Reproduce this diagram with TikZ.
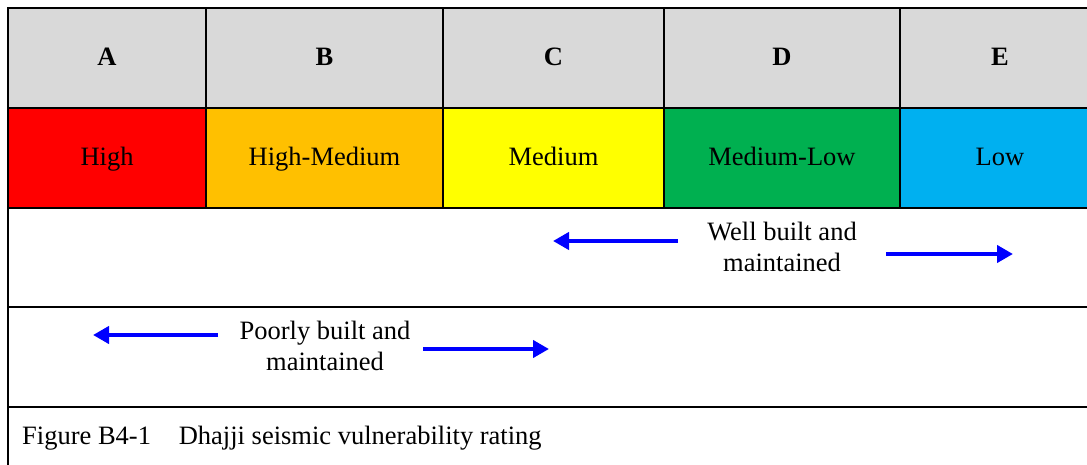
\documentclass[tikz,border=0pt]{standalone}
\usepackage{fontspec}
\setmainfont{Liberation Serif}
\usepackage{tikz}
\usetikzlibrary{arrows.meta,positioning}

\definecolor{hdgrey}{HTML}{D9D9D9}
\definecolor{ratered}{HTML}{FF0000}
\definecolor{rateorange}{HTML}{FFC000}
\definecolor{rateyellow}{HTML}{FFFF00}
\definecolor{rategreen}{HTML}{00B050}
\definecolor{rateblue}{HTML}{00B0F0}
\definecolor{arrblue}{HTML}{0000FF}

\tikzset{
  cell/.style={draw=black,line width=2pt,minimum height=100pt,inner sep=0pt,outer sep=0pt,align=center,text height=0.7em,text depth=0.1em},
  hdcell/.style={cell,fill=hdgrey,font=\bfseries},
  bandbox/.style={draw=black,line width=2pt,inner sep=0pt,outer sep=0pt},
  arr/.style={draw=arrblue,line width=4.5pt,-{Triangle[length=16pt,width=17pt]}},
  lbl/.style={align=center,inner sep=0pt}
}

\begin{document}
\begin{tikzpicture}[x=1pt,y=-1pt]
\fontsize{26.5}{31}\selectfont
\useasboundingbox (0,0) rectangle (1087,465);
\clip (0,0) rectangle (1087,465);
% header row
\node[hdcell,minimum width=198pt] (hA) at (107,58) {A};
\node[hdcell,minimum width=237pt] (hB) at (324.5,58) {B};
\node[hdcell,minimum width=221pt] (hC) at (553.5,58) {C};
\node[hdcell,minimum width=236pt] (hD) at (782,58) {D};
\node[hdcell,minimum width=200pt] (hE) at (1000,58) {E};
% rating row
\node[cell,fill=ratered,minimum width=198pt] (rA) at (107,158) {High};
\node[cell,fill=rateorange,minimum width=237pt] (rB) at (324.5,158) {High-Medium};
\node[cell,fill=rateyellow,minimum width=221pt] (rC) at (553.5,158) {Medium};
\node[cell,fill=rategreen,minimum width=236pt] (rD) at (782,158) {Medium-Low};
\node[cell,fill=rateblue,minimum width=200pt] (rE) at (1000,158) {Low};
% bands
\node[bandbox,minimum width=1092pt,minimum height=99pt] (wellrow) at (554,257.5) {};
\node[bandbox,minimum width=1092pt,minimum height=100pt] (poorrow) at (554,357) {};
\node[bandbox,minimum width=1092pt,minimum height=100pt] (caprow) at (554,457) {};
% well built
\node[lbl] (well) at (782,247) {Well built and\\maintained};
\coordinate (wellLa) at (678,241);
\coordinate (wellLb) at (553,241);
\coordinate (wellRa) at (886,254);
\coordinate (wellRb) at (1013,254);
\draw[arr] (wellLa) -- (wellLb);
\draw[arr] (wellRa) -- (wellRb);
% poorly built
\node[lbl] (poor) at (325,346) {Poorly built and\\maintained};
\coordinate (poorLa) at (218,335);
\coordinate (poorLb) at (93,335);
\coordinate (poorRa) at (423,349);
\coordinate (poorRb) at (549,349);
\draw[arr] (poorLa) -- (poorLb);
\draw[arr] (poorRa) -- (poorRb);
% caption
\node[lbl,anchor=west] (cap) at (22,438) {Figure B4-1\hspace{1.05em}Dhajji seismic vulnerability rating};
\end{tikzpicture}
\end{document}
